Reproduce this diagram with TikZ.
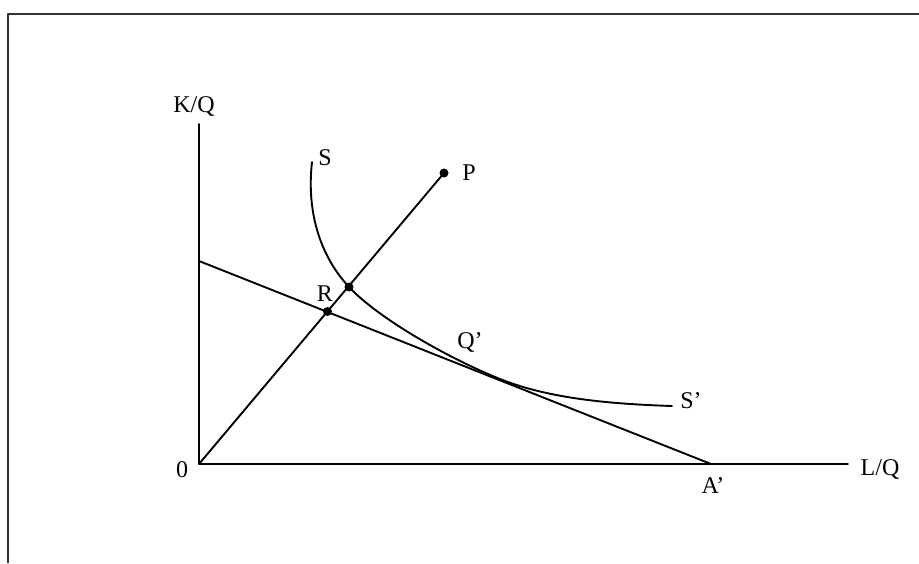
\documentclass[tikz,border=0pt]{standalone}
\usepackage{fontspec}
\setmainfont{Liberation Serif}
\begin{document}
\begin{tikzpicture}[x=1pt,y=-1pt, line width=1.9pt, line cap=round, line join=round,
  lbl/.style={font=\fontsize{24}{28}\selectfont, inner sep=0pt, anchor=base},
  dotnode/.style={circle, fill=black, draw=none, inner sep=0pt, minimum size=9pt},
  framestyle/.style={draw=black!80, line width=2.2pt, line cap=butt}]
\useasboundingbox (0,0) rectangle (919,563);
% outer frame (partially visible)
\draw[framestyle] (8,563) -- (8,14) -- (919,14);
% axes
\coordinate (O) at (199,464);
\coordinate (Ytop) at (199,124);
\coordinate (Xend) at (848,464);
\draw (Ytop) -- (O) -- (Xend);
% budget line
\coordinate (B) at (199,261);
\coordinate (A) at (711,464);
\draw (B) -- (A);
% ray
\node[dotnode] (P) at (444,173) {};
\draw (O) -- (P.center);
\node[dotnode] (R) at (327.5,311.5) {};
\node[dotnode] (D) at (349,287) {};
% isoquant S S'
\coordinate (Stop) at (312,162);
\coordinate (T) at (500,379);
\coordinate (E) at (672,406);
\draw (Stop) .. controls (306,215) and (322,258) .. (D.center)
  .. controls (379,319) and (450,359) .. (T)
  .. controls (550,399) and (612,404) .. (E);
% labels
\node[lbl] (kq) at (194,112) {K/Q};
\node[lbl] (s) at (325,165) {S};
\node[lbl] (p) at (469,180) {P};
\node[lbl] (r) at (325,301) {R};
\node[lbl] (q) at (470,348) {Q’};
\node[lbl] (s2) at (691,408) {S’};
\node[lbl] (zero) at (182,477) {0};
\node[lbl] (lq) at (880,475) {L/Q};
\node[lbl] (a) at (713,493) {A’};
\end{tikzpicture}
\end{document}
